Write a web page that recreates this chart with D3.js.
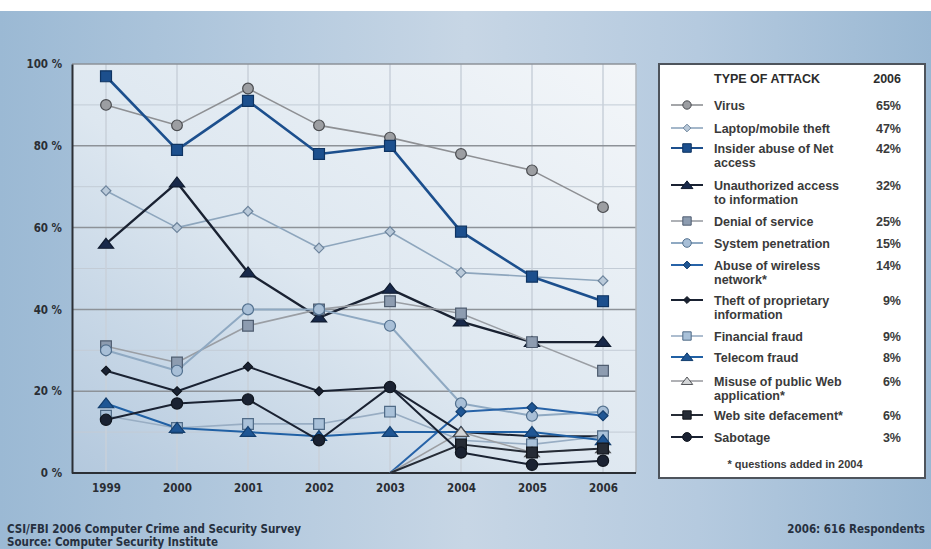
<!DOCTYPE html>
<html><head><meta charset="utf-8">
<script src="https://cdn.jsdelivr.net/npm/d3@7/dist/d3.min.js"></script>
<style>html,body{margin:0;padding:0;background:#fff;}svg{display:block;}</style>
</head><body><svg id="c" width="931" height="549"></svg>
<script>
// ---------- DATA ----------
const years = ["1999","2000","2001","2002","2003","2004","2005","2006"];
const yTicks = [0, 20, 40, 60, 80, 100];

const virus        = [90, 85, 94, 85, 82, 78, 74, 65];
const laptop       = [69, 60, 64, 55, 59, 49, 48, 47];
const insider      = [97, 79, 91, 78, 80, 59, 48, 42];
const unauthorized = [56, 71, 49, 38, 45, 37, 32, 32];
const denial       = [31, 27, 36, 40, 42, 39, 32, 25];
const sysPen       = [30, 25, 40, 40, 36, 17, 14, 15];
const wireless     = [null, null, null, null, 0, 15, 16, 14];
const theft        = [25, 20, 26, 20, 21, 10, 9, 9];
const financial    = [14, 11, 12, 12, 15, 8, 7, 9];
const telecom      = [17, 11, 10, 9, 10, 10, 10, 8];
const misuse       = [null, null, null, null, 0, 10, 5, 6];
const defacement   = [null, null, null, null, 0, 7, 5, 6];
const sabotage     = [13, 17, 18, 8, 21, 5, 2, 3];

const seriesNames = [
  ["Virus"], ["Laptop/mobile theft"], ["Insider abuse of Net", "access"],
  ["Unauthorized access", "to information"], ["Denial of service"], ["System penetration"],
  ["Abuse of wireless", "network*"], ["Theft of proprietary", "information"],
  ["Financial fraud"], ["Telecom fraud"], ["Misuse of public Web", "application*"],
  ["Web site defacement*"], ["Sabotage"]
];
const share2006 = ["65%","47%","42%","32%","25%","15%","14%","9%","9%","8%","6%","6%","3%"];
const seriesValues = [virus, laptop, insider, unauthorized, denial, sysPen, wireless,
                      theft, financial, telecom, misuse, defacement, sabotage];

// ---------- STYLES ----------
const styles = [
  {shape:"circle",  fill:"#9c9ea2", stroke:"#4a4c50", line:"#8e9094", lw:1.6, size:90},
  {shape:"diamond", fill:"#b9c9d9", stroke:"#6d849c", line:"#8ea6bd", lw:1.6, size:48},
  {shape:"square",  fill:"#1c4f8d", stroke:"#0f3462", line:"#1c4f8d", lw:2.6, size:120},
  {shape:"triangle",fill:"#18294a", stroke:"#101c30", line:"#1a2232", lw:2.4, size:70},
  {shape:"square",  fill:"#8d9cb0", stroke:"#4f5d70", line:"#9a9ea4", lw:1.6, size:115},
  {shape:"circle",  fill:"#a8bfd7", stroke:"#52708e", line:"#8fa9c2", lw:2,   size:95},
  {shape:"diamond", fill:"#1f5694", stroke:"#133e6e", line:"#2763a8", lw:2,   size:50},
  {shape:"diamond", fill:"#1a2232", stroke:"#10161f", line:"#1a2232", lw:2,   size:40},
  {shape:"square",  fill:"#a9c1d9", stroke:"#4f6a86", line:"#98adc3", lw:1.6, size:115},
  {shape:"triangle",fill:"#1f5694", stroke:"#133e6e", line:"#2060a4", lw:2,   size:70},
  {shape:"triangle",fill:"#d4d6d8", stroke:"#505256", line:"#9c9ea2", lw:1.6, size:65},
  {shape:"square",  fill:"#262c36", stroke:"#12161c", line:"#262c36", lw:2,   size:115},
  {shape:"circle",  fill:"#1a2232", stroke:"#10161f", line:"#1a2232", lw:2,   size:100}
];

// ---------- DRAW ----------
const svg = d3.select("#c");
const defs = svg.append("defs");
const bg = defs.append("linearGradient").attr("id","bg").attr("x1",0).attr("y1",0).attr("x2",1).attr("y2",0);
[[0,"#9bb9d4"],[0.3,"#b6cbdf"],[0.5,"#c7d6e5"],[0.75,"#b5cadf"],[1,"#9ab8d3"]]
  .forEach(s=>bg.append("stop").attr("offset",s[0]).attr("stop-color",s[1]));
const pg = defs.append("linearGradient").attr("id","pg").attr("x1",0).attr("y1",1).attr("x2",1).attr("y2",0);
[[0,"#b3c8dd"],[0.45,"#dde7f0"],[1,"#f3f6f9"]]
  .forEach(s=>pg.append("stop").attr("offset",s[0]).attr("stop-color",s[1]));

svg.append("rect").attr("x",0).attr("y",0).attr("width",931).attr("height",549).attr("fill","#fff");
svg.append("rect").attr("x",0).attr("y",11).attr("width",931).attr("height",538).attr("fill","url(#bg)");

const x = d3.scalePoint().domain(years).range([106, 603]);
const y = d3.scaleLinear().domain([0, 100]).range([473, 64]);
const left = 72, right = 636;

svg.append("rect").attr("x",left).attr("y",y(100)).attr("width",right-left).attr("height",y(0)-y(100)).attr("fill","url(#pg)");

const g = svg.append("g");
g.selectAll(".minor").data(d3.range(10,100,20)).join("line")
  .attr("x1",left).attr("x2",right).attr("y1",d=>y(d)).attr("y2",d=>y(d))
  .attr("stroke","#c3ccd6").attr("stroke-width",1);
g.selectAll(".vg").data(years).join("line")
  .attr("x1",d=>x(d)).attr("x2",d=>x(d)).attr("y1",y(100)).attr("y2",y(0))
  .attr("stroke","#c9d1da").attr("stroke-width",1.5);
g.selectAll(".major").data(yTicks.filter(d=>d>0)).join("line")
  .attr("x1",left).attr("x2",right).attr("y1",d=>y(d)).attr("y2",d=>y(d))
  .attr("stroke","#8d9298").attr("stroke-width",1.5);
g.append("line").attr("x1",right).attr("x2",right).attr("y1",y(100)).attr("y2",y(0))
  .attr("stroke","#b0b6bd").attr("stroke-width",1.5);

const yAxis = d3.axisLeft(y).tickValues(yTicks).tickFormat(d=>d+" %").tickSize(0).tickPadding(10);
const ya = svg.append("g").attr("transform",`translate(${left},0)`).call(yAxis);
ya.select(".domain").attr("stroke","#2b2f35").attr("stroke-width",2);
ya.selectAll("text").attr("font-family","'DejaVu Sans Condensed','DejaVu Sans',sans-serif")
  .attr("font-weight","bold").attr("font-size",11.5).attr("fill","#2a2e34");

const xAxis = d3.axisBottom(x).tickSize(0).tickPadding(11);
const xa = svg.append("g").attr("transform",`translate(0,${y(0)})`).call(xAxis);
xa.select(".domain").attr("d",`M${left},0H${right}`).attr("stroke","#2b2f35").attr("stroke-width",2);
xa.selectAll("text").attr("font-family","'DejaVu Sans Condensed','DejaVu Sans',sans-serif")
  .attr("font-weight","bold").attr("font-size",11.5).attr("fill","#2a2e34");

function symPath(st){
  const type = st.shape==="circle"?d3.symbolCircle:st.shape==="triangle"?d3.symbolTriangle:d3.symbolSquare;
  return d3.symbol().type(type).size(st.size)();
}
function markerTransform(st, px, py, k){
  k = k || 1;
  if(st.shape==="diamond") return `translate(${px},${py}) rotate(45) scale(${k})`;
  if(st.shape==="triangle") return `translate(${px},${py+1}) scale(${1.2*k},${0.9*k})`;
  return `translate(${px},${py}) scale(${k})`;
}

const line = d3.line().defined(d=>d.v!=null).x(d=>x(d.yr)).y(d=>y(d.v));
seriesValues.forEach((vals,i)=>{
  const st = styles[i];
  const pts = years.map((yr,j)=>({yr, v: vals[j]}));
  svg.append("path").attr("d",line(pts)).attr("fill","none")
    .attr("stroke",st.line).attr("stroke-width",st.lw).attr("stroke-linejoin","round");
});
seriesValues.forEach((vals,i)=>{
  const st = styles[i];
  const pts = years.map((yr,j)=>({yr, v: vals[j]})).filter(d=>d.v!=null && d.v>0);
  svg.append("g").selectAll("path").data(pts).join("path")
    .attr("d",symPath(st)).attr("transform",d=>markerTransform(st,x(d.yr),y(d.v)))
    .attr("fill",st.fill).attr("stroke",st.stroke).attr("stroke-width",1.2).attr("vector-effect","non-scaling-stroke");
});

// ---------- LEGEND ----------
const lg = svg.append("g");
lg.append("rect").attr("x",659).attr("y",64).attr("width",266).attr("height",414)
  .attr("fill","#fff").attr("stroke","#4e545c").attr("stroke-width",2);
const lf = "'Liberation Sans',Arial,sans-serif";
lg.append("text").attr("x",714).attr("y",83).text("TYPE OF ATTACK")
  .attr("font-family",lf).attr("font-weight","bold").attr("font-size",12.5).attr("fill","#2c2c2c");
lg.append("text").attr("x",901).attr("y",83).attr("text-anchor","end").text(years[years.length-1])
  .attr("font-family",lf).attr("font-weight","bold").attr("font-size",12.5).attr("fill","#2c2c2c");

const rowY = [105,128,148,185,221,243,265,300,336,357,381,415,437];
seriesNames.forEach((lines,i)=>{
  const st = styles[i], cy = rowY[i];
  lg.append("line").attr("x1",671).attr("x2",703).attr("y1",cy).attr("y2",cy)
    .attr("stroke",st.line).attr("stroke-width",Math.min(st.lw,2));
  lg.append("path").attr("d",symPath(st)).attr("transform",markerTransform(st,687,cy,0.78))
    .attr("fill",st.fill).attr("stroke",st.stroke).attr("stroke-width",1).attr("vector-effect","non-scaling-stroke");
  lines.forEach((t,k)=>{
    lg.append("text").attr("x",714).attr("y",cy+4.5+k*14).text(t)
      .attr("font-family",lf).attr("font-weight","bold").attr("font-size",12.5).attr("fill","#3a3a3a");
  });
  lg.append("text").attr("x",901).attr("y",cy+4.5).attr("text-anchor","end").text(share2006[i])
    .attr("font-family",lf).attr("font-weight","bold").attr("font-size",12.5).attr("fill","#3a3a3a");
});
lg.append("text").attr("x",795).attr("y",468).attr("text-anchor","middle").text("* questions added in 2004")
  .attr("font-family",lf).attr("font-weight","bold").attr("font-size",11).attr("fill","#3a3a3a");

// ---------- FOOTER ----------
const ff = "'DejaVu Sans Condensed','Liberation Sans Narrow',sans-serif";
svg.append("text").attr("x",7).attr("y",533).text("CSI/FBI 2006 Computer Crime and Security Survey")
  .attr("font-family",ff).attr("font-weight","bold").attr("font-size",11.5).attr("fill","#263040");
svg.append("text").attr("x",7).attr("y",546).text("Source: Computer Security Institute")
  .attr("font-family",ff).attr("font-weight","bold").attr("font-size",11.5).attr("fill","#263040");
svg.append("text").attr("x",925).attr("y",533).attr("text-anchor","end").text("2006: 616 Respondents")
  .attr("font-family",ff).attr("font-weight","bold").attr("font-size",11.5).attr("fill","#263040");
</script></body></html>
